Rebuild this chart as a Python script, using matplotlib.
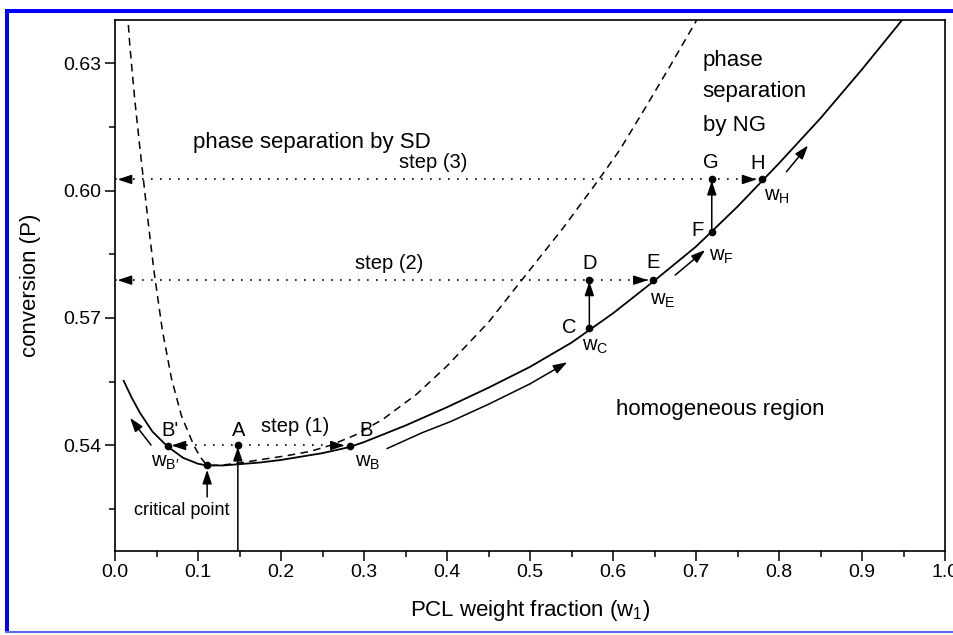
import numpy as np
import matplotlib
matplotlib.use('Agg')
import matplotlib.pyplot as plt
from matplotlib.patches import Rectangle

plt.rcParams['font.family'] = ['Liberation Sans', 'DejaVu Sans']
plt.rcParams['mathtext.fontset'] = 'custom'
plt.rcParams['mathtext.rm'] = 'Liberation Sans'
plt.rcParams['mathtext.it'] = 'Liberation Sans:italic'

# binodal (cloud point curve)
binodal_w = [0.010, 0.020, 0.030, 0.045, 0.063, 0.082, 0.100, 0.111, 0.130, 0.150, 0.175, 0.200,
             0.250, 0.282, 0.300, 0.350, 0.400, 0.450, 0.500, 0.550, 0.600, 0.650, 0.700, 0.750,
             0.800, 0.850, 0.900, 0.952]
binodal_p = [0.5554, 0.5513, 0.5477, 0.5433, 0.5398, 0.5371, 0.5357, 0.5353, 0.5353, 0.5356, 0.5360, 0.5366,
             0.5382, 0.5396, 0.5408, 0.5447, 0.5490, 0.5536, 0.5585, 0.5642, 0.5711, 0.5788, 0.5868, 0.5962,
             0.6064, 0.6170, 0.6285, 0.6410]

# spinodal (dashed)
spinodal_w = [0.0150, 0.0180, 0.0240, 0.0300, 0.0337, 0.0400, 0.0470, 0.0570, 0.0680, 0.0800, 0.0950, 0.1030,
              0.1110, 0.130, 0.154, 0.180, 0.207, 0.235, 0.259, 0.290, 0.323, 0.363, 0.400, 0.450, 0.490,
              0.540, 0.583, 0.608, 0.640, 0.670, 0.705]
spinodal_p = [0.6420, 0.6338, 0.6210, 0.6100, 0.6035, 0.5925, 0.5810, 0.5672, 0.5558, 0.5470, 0.5400, 0.5372,
              0.5353, 0.5354, 0.5360, 0.5368, 0.5376, 0.5386, 0.5400, 0.5425, 0.5462, 0.5520, 0.5587, 0.5690,
              0.5789, 0.5912, 0.6026, 0.6095, 0.6198, 0.6297, 0.6415]

# marked points
pt_names = ["B'", "crit", "A", "B", "C", "D", "E", "F", "G", "H"]
pt_w = [0.064, 0.111, 0.148, 0.283, 0.5715, 0.5715, 0.648, 0.719, 0.719, 0.779]
pt_p = [0.5398, 0.5353, 0.5400, 0.5398, 0.5676, 0.5789, 0.5789, 0.5902, 0.6026, 0.6026]

# steps (dotted), P level and extent
step_p = [0.5400, 0.5789, 0.6026]
step_w0 = [0.064, 0.0, 0.0]
step_w1 = [0.283, 0.648, 0.779]

# direction arrows along the binodal
arr_long_w = [0.328, 0.370, 0.404, 0.450, 0.500, 0.545]
arr_long_p = [0.5393, 0.5430, 0.5456, 0.5497, 0.5545, 0.5596]

fig = plt.figure(figsize=(9.54, 6.35), dpi=100)
ax = fig.add_axes([115/954, 1-550.5/635, 830/954, 530.5/635])

ax.plot(binodal_w, binodal_p, color='k', lw=1.3, solid_capstyle='butt')
ax.plot(spinodal_w, spinodal_p, color='k', lw=1.1, dashes=(5, 3.5))

head = dict(arrowstyle='-|>,head_length=0.6,head_width=0.2', mutation_scale=14,
            color='k', lw=1.1, shrinkA=0, shrinkB=0)
dx_head = 0.014

# dotted step lines with arrowheads at both ends
for p, w0, w1 in zip(step_p, step_w0, step_w1):
    ax.plot([w0, w1], [p, p], color='k', lw=1.2, linestyle=(0, (1, 4.4)))
    lt = w0 + (0.004 if w0 > 0 else 0.003)
    ax.annotate('', xy=(lt, p), xytext=(lt + dx_head, p), arrowprops=head)
    rt = w1 - 0.006
    ax.annotate('', xy=(rt, p), xytext=(rt - dx_head, p), arrowprops=head)

# vertical arrows
ax.annotate('', xy=(0.148, 0.5397), xytext=(0.148, 0.5153), arrowprops=head)
ax.annotate('', xy=(0.5715, 0.5786), xytext=(0.5715, 0.5676), arrowprops=head)
ax.annotate('', xy=(0.719, 0.6023), xytext=(0.719, 0.5902), arrowprops=head)
ax.annotate('', xy=(0.111, 0.5343), xytext=(0.111, 0.5279), arrowprops=head)

# direction arrows
ax.annotate('', xy=(0.0181, 0.5465), xytext=(0.0434, 0.5401), arrowprops=head)
ax.plot(arr_long_w[:-1], arr_long_p[:-1], color='k', lw=1.1)
ax.annotate('', xy=(arr_long_w[-1], arr_long_p[-1]), xytext=(arr_long_w[-2], arr_long_p[-2]), arrowprops=head)
ax.annotate('', xy=(0.711, 0.5860), xytext=(0.675, 0.5801), arrowprops=head)
ax.annotate('', xy=(0.835, 0.6106), xytext=(0.809, 0.6044), arrowprops=head)

ax.plot(pt_w, pt_p, 'o', color='k', ms=4.5, zorder=5)

fs = 14.5
ax.text(0.066, 0.5436, "B'", fontsize=fs, ha='center', va='center')
ax.text(0.1486, 0.5436, "A", fontsize=fs, ha='center', va='center')
ax.text(0.217, 0.5444, "step (1)", fontsize=fs, ha='center', va='center')
ax.text(0.303, 0.5436, "B", fontsize=fs, ha='center', va='center')
ax.text(0.060, 0.5359, r"w$_{\mathrm{B}\prime}$", fontsize=fs, ha='center', va='center')
ax.text(0.305, 0.5359, r"w$_\mathrm{B}$", fontsize=fs, ha='center', va='center')
ax.text(0.080, 0.5248, "critical point", fontsize=13, ha='center', va='center')
ax.text(0.547, 0.5678, "C", fontsize=fs, ha='center', va='center')
ax.text(0.578, 0.5632, r"w$_\mathrm{C}$", fontsize=fs, ha='center', va='center')
ax.text(0.5715, 0.5829, "D", fontsize=fs, ha='center', va='center')
ax.text(0.6486, 0.5830, "E", fontsize=fs, ha='center', va='center')
ax.text(0.660, 0.5742, r"w$_\mathrm{E}$", fontsize=fs, ha='center', va='center')
ax.text(0.702, 0.5905, "F", fontsize=fs, ha='center', va='center')
ax.text(0.730, 0.5844, r"w$_\mathrm{F}$", fontsize=fs, ha='center', va='center')
ax.text(0.7177, 0.6065, "G", fontsize=fs, ha='center', va='center')
ax.text(0.774, 0.6064, "H", fontsize=fs, ha='center', va='center')
ax.text(0.797, 0.5986, r"w$_\mathrm{H}$", fontsize=fs, ha='center', va='center')
ax.text(0.330, 0.5829, "step (2)", fontsize=fs, ha='center', va='center')
ax.text(0.383, 0.6067, "step (3)", fontsize=fs, ha='center', va='center')
ax.text(0.237, 0.6114, "phase separation by SD", fontsize=16, ha='center', va='center')
ax.text(0.708, 0.6307, "phase", fontsize=16, ha='left', va='center')
ax.text(0.708, 0.6232, "separation", fontsize=16, ha='left', va='center')
ax.text(0.708, 0.6154, "by NG", fontsize=16, ha='left', va='center')
ax.text(0.729, 0.5484, "homogeneous region", fontsize=16, ha='center', va='center')

ax.set_xlim(0, 1.0)
ax.set_ylim(0.51529, 0.64012)
ax.set_xticks(np.arange(0, 1.01, 0.1))
ax.set_xticks(np.arange(0.05, 1.0, 0.1), minor=True)
ax.set_yticks([0.54, 0.57, 0.60, 0.63])
ax.set_yticks([0.525, 0.555, 0.585, 0.615], minor=True)
ax.set_xticklabels(['%.1f' % v for v in np.arange(0, 1.01, 0.1)])
ax.set_yticklabels(['0.54', '0.57', '0.60', '0.63'])
ax.tick_params(which='major', direction='out', length=7, width=1.1, labelsize=14, pad=3)
ax.tick_params(which='minor', direction='out', length=4, width=1.1)
ax.tick_params(top=False, right=False)
for s in ax.spines.values():
    s.set_linewidth(1.2)

ax.set_xlabel(r"PCL weight fraction (w$_1$)", fontsize=16, labelpad=12)
ax.set_ylabel("conversion (P)", fontsize=16, labelpad=16)

# blue frame round the picture
blue = '#0000ff'
fig.add_artist(Rectangle((5/954, 1-633/635), 4/954, 624/635, transform=fig.transFigure, color=blue, lw=0))
fig.add_artist(Rectangle((5/954, 1-13/635), 949/954, 4/635, transform=fig.transFigure, color=blue, lw=0))
fig.add_artist(Rectangle((5/954, 1-633/635), 949/954, 2/635, transform=fig.transFigure, color='#5a6cf5', lw=0))

fig.savefig('out.png', dpi=100)
